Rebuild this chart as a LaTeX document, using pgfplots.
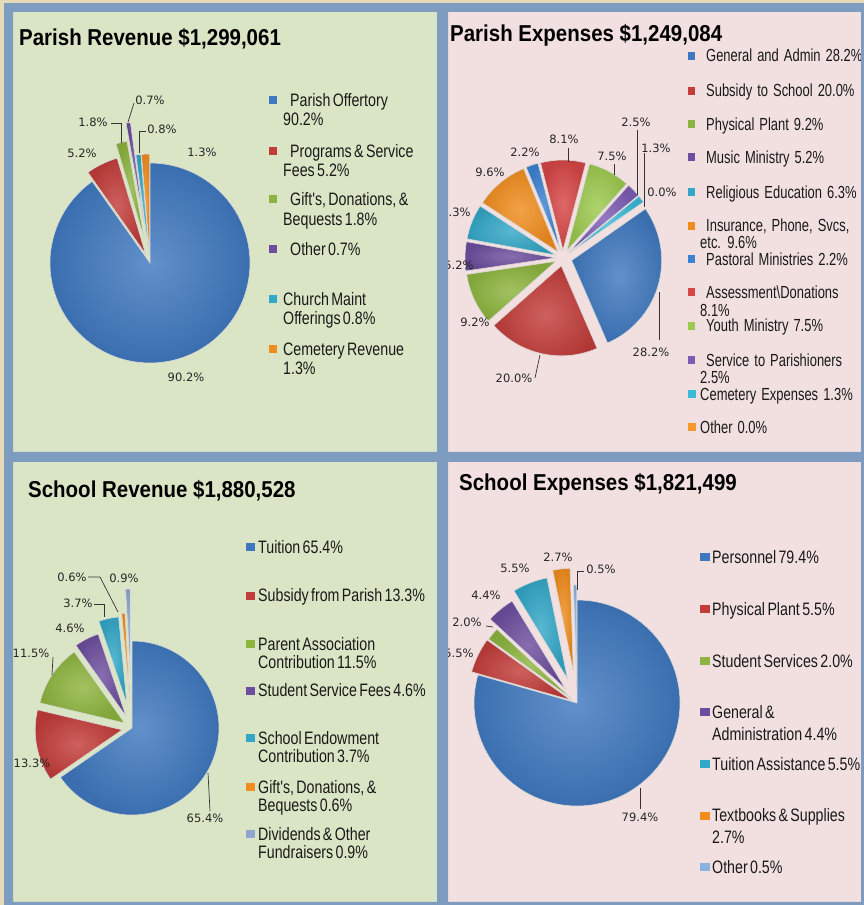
\documentclass[border=0pt]{standalone}
\usepackage{pgfplots}
\pgfplotsset{compat=1.18}
\usepackage{fontspec}
\setmainfont{Liberation Sans}
\newfontfamily\titlefont[FakeStretch=0.89]{Liberation Sans}
\newfontfamily\legfont[FakeStretch=0.79,WordSpace=0.6]{Liberation Sans}
\newfontfamily\legfontw[FakeStretch=0.74,WordSpace=1.4]{Liberation Sans}
\newfontfamily\labfont{DejaVu Sans}

\definecolor{framec}{HTML}{7D9CC0}
\definecolor{beige}{HTML}{E6D9B6}
\definecolor{greenbg}{HTML}{DAE5C5}
\definecolor{pinkbg}{HTML}{F2E0E0}
\definecolor{cBlue}{HTML}{3F78BE}
\definecolor{cRed}{HTML}{C23D3A}
\definecolor{cGreen}{HTML}{8DB43E}
\definecolor{cPurple}{HTML}{6D4E9E}
\definecolor{cAqua}{HTML}{33A7C7}
\definecolor{cOrange}{HTML}{F08D1E}
\definecolor{cBlue2}{HTML}{3D82D2}
\definecolor{cRed2}{HTML}{D64646}
\definecolor{cGreen2}{HTML}{9CC94E}
\definecolor{cPurple2}{HTML}{7D5CB4}
\definecolor{cAqua2}{HTML}{3BBAD9}
\definecolor{cOrange2}{HTML}{F79A2E}
\definecolor{cSlate}{HTML}{8FA6D0}
\definecolor{cLight}{HTML}{8BB1DE}

\tikzset{
  slice/.style={draw=white!70!gray,line width=0.6pt},
  lab/.style={font=\labfont\fontsize{11.5}{12}\selectfont,text=black!85,inner sep=0pt},
  leg/.style={font=\legfont\fontsize{18}{18}\selectfont,text=black!90,inner sep=0pt,anchor=base west},
  legw/.style={font=\legfontw\fontsize{17.5}{18}\selectfont,text=black!90,inner sep=0pt,anchor=base west},
  ttl/.style={font=\titlefont\bfseries\fontsize{23}{23}\selectfont,text=black,inner sep=0pt,anchor=base west},
  ldr/.style={draw=black!80,line width=0.7pt}
}

\newcommand\setpie[4]{\xdef\pcx{#1}\xdef\pcy{#2}\xdef\pR{#3}\xdef\pang{#4}}
\newcommand\slice[3]{%
  \pgfmathsetmacro\sSA{\pang}%
  \pgfmathsetmacro\sEA{\pang-3.6*#1}%
  \pgfmathsetmacro\sMA{(\sSA+\sEA)/2}%
  \pgfmathsetmacro\sPX{\pcx+#2*cos(\sMA)}%
  \pgfmathsetmacro\sPY{\pcy-#2*sin(\sMA)}%
  \edef\sDo{\noexpand\addplot[slice,shading=radial,inner color=#3!82!white,outer color=#3!92!black] coordinates {(\sPX,\sPY)} -- ++(\sSA:\pR pt) arc[start angle=\sSA,end angle=\sEA,radius=\pR pt] -- cycle;}%
  \sDo
  \xdef\pang{\sEA}%
}
\newcommand\sq[4]{\fill[#4] (axis cs:#1,#2-10) rectangle (axis cs:#1+#3,#2-2);}

\begin{document}
\begin{tikzpicture}
% panel backgrounds
\begin{scope}[yshift=905pt,x=1pt,y=-1pt]
  \fill[framec] (0,0) rectangle (864,905);
  \fill[greenbg] (13,12) rectangle (437,452);
  \fill[pinkbg] (448,12) rectangle (861,452);
  \fill[greenbg] (13,462) rectangle (437,902);
  \fill[pinkbg] (448,462) rectangle (861,902);
\end{scope}
\begin{axis}[at={(0,0)},anchor=south west,width=864pt,height=905pt,scale only axis,
  xmin=0,xmax=864,ymin=0,ymax=905,y dir=reverse,hide axis,clip=false]

% ---------------- Parish Revenue ----------------
\setpie{150}{263}{100}{90}
\slice{90.2}{0}{cBlue}
\slice{5.2}{10}{cRed}
\slice{1.8}{24}{cGreen}
\slice{0.7}{42}{cPurple}
\slice{0.8}{9}{cAqua}
\slice{1.3}{9}{cOrange}

% ---------------- Parish Expenses ----------------
\setpie{563}{258}{90}{35}
\slice{28.2}{9}{cBlue}
\slice{20.0}{8}{cRed}
\slice{9.2}{8}{cGreen}
\slice{5.2}{8}{cPurple}
\slice{6.3}{8}{cAqua}
\slice{9.6}{8}{cOrange}
\slice{2.2}{8}{cBlue2}
\slice{8.1}{8}{cRed2}
\slice{7.5}{8}{cGreen2}
\slice{2.5}{8}{cPurple2}
\slice{1.3}{8}{cAqua2}

% ---------------- School Revenue ----------------
\setpie{132}{728}{87}{90}
\slice{65.4}{0}{cBlue}
\slice{13.3}{10}{cRed}
\slice{11.5}{9}{cGreen}
\slice{4.6}{13}{cPurple}
\slice{3.7}{25}{cAqua}
\slice{0.6}{28}{cOrange}
\slice{0.9}{52}{cSlate}

% ---------------- School Expenses ----------------
\setpie{577}{703}{103}{90}
\slice{79.4}{0}{cBlue}
\slice{5.5}{7}{cRed}
\slice{2.0}{6}{cGreen}
\slice{4.4}{18}{cPurple}
\slice{5.5}{26}{cAqua}
\slice{2.7}{32}{cOrange}
\slice{0.5}{15}{cLight}

% ===== titles =====
\node[ttl] at (axis cs:19,45) {Parish Revenue \$1,299,061};
\node[ttl] at (axis cs:450,41) {Parish Expenses \$1,249,084};
\node[ttl] at (axis cs:28,497) {School Revenue \$1,880,528};
\node[ttl] at (axis cs:459,490) {School Expenses \$1,821,499};

% ===== data labels: Parish Revenue =====
\node[lab] at (axis cs:150,100) {0.7\%};
\node[lab] at (axis cs:93,122) {1.8\%};
\node[lab] at (axis cs:162,129) {0.8\%};
\node[lab] at (axis cs:82,153) {5.2\%};
\node[lab] at (axis cs:202,152) {1.3\%};
\node[lab] at (axis cs:186,377) {90.2\%};
\draw[ldr] (axis cs:111,123) -- (axis cs:121,123) -- (axis cs:121,143);
\draw[ldr] (axis cs:134,103) -- (axis cs:128,122);
\draw[ldr] (axis cs:146,131) -- (axis cs:139,131) -- (axis cs:139,153);

% ===== data labels: Parish Expenses =====
\node[lab] at (axis cs:636,122) {2.5\%};
\node[lab] at (axis cs:656,148) {1.3\%};
\node[lab] at (axis cs:662,192) {0.0\%};
\node[lab] at (axis cs:612,156) {7.5\%};
\node[lab] at (axis cs:564,139) {8.1\%};
\node[lab] at (axis cs:525,152) {2.2\%};
\node[lab] at (axis cs:490,172) {9.6\%};
\node[lab] at (axis cs:456,212) {6.3\%};
\node[lab] at (axis cs:459,265) {5.2\%};
\node[lab] at (axis cs:475,322) {9.2\%};
\node[lab] at (axis cs:514,378) {20.0\%};
\node[lab] at (axis cs:651,352) {28.2\%};
\draw[ldr] (axis cs:637,130) -- (axis cs:637,195);
\draw[ldr] (axis cs:644,153) -- (axis cs:644,207);
\draw[ldr] (axis cs:614,164) -- (axis cs:614,175);
\draw[ldr] (axis cs:568,148) -- (axis cs:568,162);
\draw[ldr] (axis cs:535,378) -- (axis cs:540,355);
\draw[ldr] (axis cs:659,292) -- (axis cs:659,340);

% ===== data labels: School Revenue =====
\node[lab] at (axis cs:72,577) {0.6\%};
\node[lab] at (axis cs:124,578) {0.9\%};
\node[lab] at (axis cs:78,603) {3.7\%};
\node[lab] at (axis cs:70,628) {4.6\%};
\node[lab] at (axis cs:31,653) {11.5\%};
\node[lab] at (axis cs:32,763) {13.3\%};
\node[lab] at (axis cs:205,818) {65.4\%};
\draw[ldr] (axis cs:88,577) -- (axis cs:100,577) -- (axis cs:118,612);
\draw[ldr] (axis cs:94,604) -- (axis cs:104,604) -- (axis cs:104,617);
\draw[ldr] (axis cs:53,657) -- (axis cs:52,675);
\draw[ldr] (axis cs:208,773) -- (axis cs:210,811);

% ===== data labels: School Expenses =====
\node[lab] at (axis cs:601,569) {0.5\%};
\node[lab] at (axis cs:558,557) {2.7\%};
\node[lab] at (axis cs:515,568) {5.5\%};
\node[lab] at (axis cs:486,595) {4.4\%};
\node[lab] at (axis cs:467,622) {2.0\%};
\node[lab] at (axis cs:459,653) {5.5\%};
\node[lab] at (axis cs:640,817) {79.4\%};
\draw[ldr] (axis cs:584,571) -- (axis cs:577,571) -- (axis cs:577,590);
\draw[ldr] (axis cs:486,626) -- (axis cs:493,627);
\draw[ldr] (axis cs:640,788) -- (axis cs:640,809);

% ===== legend: Parish Revenue =====
\sq{269}{106}{8}{cBlue}   \node[leg] at (axis cs:290,106) {Parish Offertory};
                          \node[leg] at (axis cs:283,125) {90.2\%};
\sq{269}{157}{8}{cRed}    \node[leg] at (axis cs:290,157) {Programs \& Service};
                          \node[leg] at (axis cs:283,176) {Fees 5.2\%};
\sq{269}{205}{8}{cGreen}  \node[leg] at (axis cs:290,205) {Gift's, Donations, \&};
                          \node[leg] at (axis cs:283,225) {Bequests 1.8\%};
\sq{269}{255}{8}{cPurple} \node[leg] at (axis cs:290,255) {Other 0.7\%};
\sq{269}{305}{8}{cAqua}   \node[leg] at (axis cs:283,305) {Church Maint};
                          \node[leg] at (axis cs:283,324) {Offerings 0.8\%};
\sq{269}{355}{8}{cOrange} \node[leg] at (axis cs:283,355) {Cemetery Revenue};
                          \node[leg] at (axis cs:283,374) {1.3\%};

% ===== legend: Parish Expenses =====
\sq{688}{61.5}{7}{cBlue}    \node[legw] at (axis cs:706,61.5) {General and Admin 28.2\%};
\sq{688}{96.5}{7}{cRed}     \node[legw] at (axis cs:706,96.5) {Subsidy to School 20.0\%};
\sq{688}{130}{7}{cGreen}    \node[legw] at (axis cs:706,130) {Physical Plant 9.2\%};
\sq{688}{163}{7}{cPurple}   \node[legw] at (axis cs:706,163) {Music Ministry 5.2\%};
\sq{688}{198}{7}{cAqua}     \node[legw] at (axis cs:706,198) {Religious Education 6.3\%};
\sq{688}{231.5}{7}{cOrange} \node[legw] at (axis cs:706,231.5) {Insurance, Phone, Svcs,};
                            \node[legw] at (axis cs:700,248) {etc. 9.6\%};
\sq{688}{265}{7}{cBlue2}    \node[legw] at (axis cs:706,265) {Pastoral Ministries 2.2\%};
\sq{688}{298}{7}{cRed2}     \node[legw] at (axis cs:706,298) {Assessment\textbackslash Donations};
                            \node[legw] at (axis cs:700,316) {8.1\%};
\sq{688}{331.5}{7}{cGreen2} \node[legw] at (axis cs:706,331.5) {Youth Ministry 7.5\%};
\sq{688}{366}{7}{cPurple2}  \node[legw] at (axis cs:706,366) {Service to Parishioners};
                            \node[legw] at (axis cs:700,383) {2.5\%};
\sq{688}{400}{8}{cAqua2}    \node[legw] at (axis cs:700,400) {Cemetery Expenses 1.3\%};
\sq{688}{433}{8}{cOrange2}  \node[legw] at (axis cs:700,433) {Other 0.0\%};

% ===== legend: School Revenue =====
\sq{246}{553}{9}{cBlue}    \node[leg] at (axis cs:258,553) {Tuition 65.4\%};
\sq{246}{601.5}{9}{cRed}   \node[leg] at (axis cs:258,601.5) {Subsidy from Parish 13.3\%};
\sq{246}{650}{9}{cGreen}   \node[leg] at (axis cs:258,650) {Parent Association};
                           \node[leg] at (axis cs:258,668) {Contribution 11.5\%};
\sq{246}{696.5}{9}{cPurple}\node[leg] at (axis cs:258,696.5) {Student Service Fees 4.6\%};
\sq{246}{744}{9}{cAqua}    \node[leg] at (axis cs:258,744) {School Endowment};
                           \node[leg] at (axis cs:258,762.5) {Contribution 3.7\%};
\sq{246}{793}{9}{cOrange}  \node[leg] at (axis cs:258,793) {Gift's, Donations, \&};
                           \node[leg] at (axis cs:258,811.5) {Bequests 0.6\%};
\sq{246}{840}{9}{cSlate}   \node[leg] at (axis cs:258,840) {Dividends \& Other};
                           \node[leg] at (axis cs:258,858) {Fundraisers 0.9\%};

% ===== legend: School Expenses =====
\sq{700}{563}{10}{cBlue}   \node[leg] at (axis cs:712,563) {Personnel 79.4\%};
\sq{700}{615}{10}{cRed}    \node[leg] at (axis cs:712,615) {Physical Plant 5.5\%};
\sq{700}{667}{10}{cGreen}  \node[leg] at (axis cs:712,667) {Student Services 2.0\%};
\sq{700}{718}{10}{cPurple} \node[leg] at (axis cs:712,718) {General \&};
                           \node[leg] at (axis cs:712,740) {Administration 4.4\%};
\sq{700}{770}{10}{cAqua}   \node[leg] at (axis cs:712,770) {Tuition Assistance 5.5\%};
\sq{700}{821.5}{10}{cOrange}\node[leg] at (axis cs:712,821.5) {Textbooks \& Supplies};
                           \node[leg] at (axis cs:712,843) {2.7\%};
\sq{700}{873}{10}{cLight}  \node[leg] at (axis cs:712,873) {Other 0.5\%};
\end{axis}
% frame on top
\begin{scope}[yshift=905pt,x=1pt,y=-1pt]
  \fill[framec,even odd rule] (0,0) rectangle (864,905)
     (13,12) rectangle (437,452) (448,12) rectangle (861,452)
     (13,462) rectangle (437,902) (448,462) rectangle (861,902);
  \fill[beige] (0,0) rectangle (864,3);
  \fill[beige] (0,0) rectangle (4,905);
\end{scope}
\end{tikzpicture}
\end{document}
